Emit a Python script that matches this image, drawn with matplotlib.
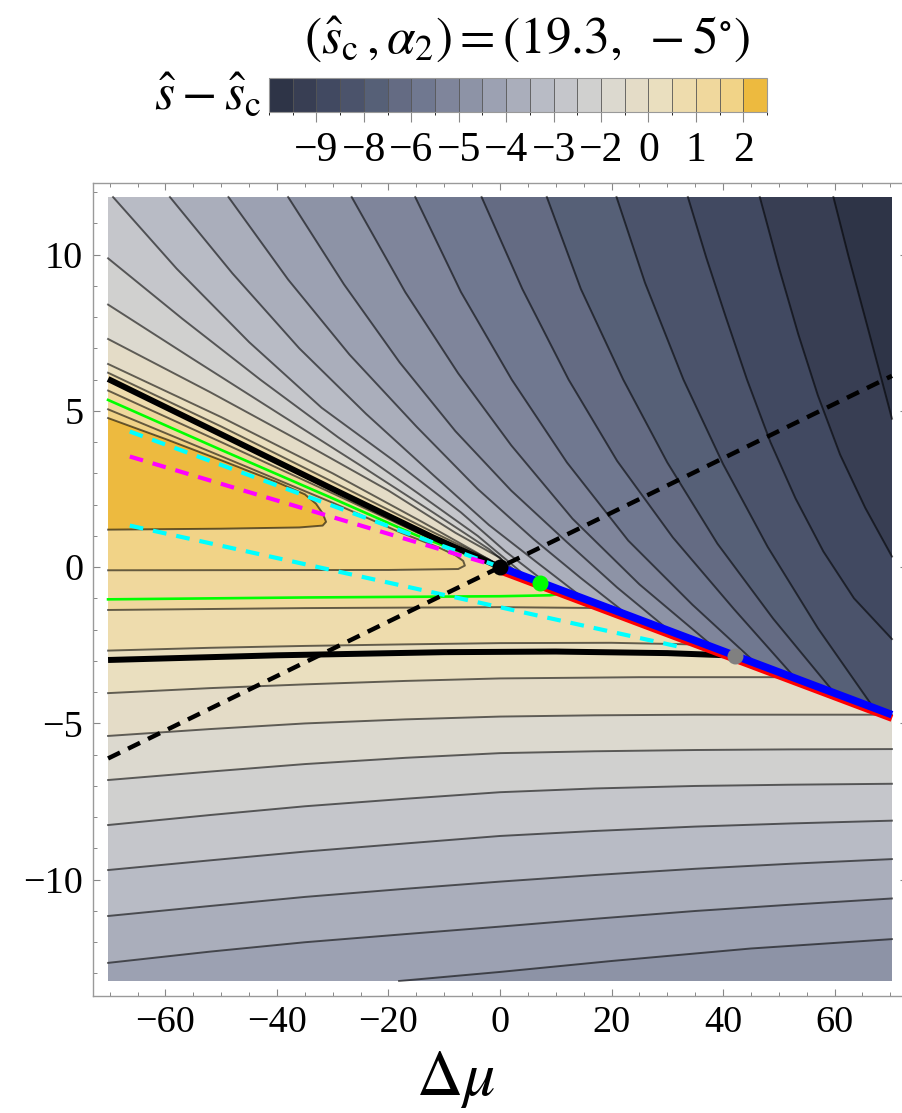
import matplotlib
matplotlib.use("Agg")
import matplotlib.pyplot as plt
from matplotlib.colors import ListedColormap, BoundaryNorm
from matplotlib.colorbar import ColorbarBase
from matplotlib.ticker import MultipleLocator

plt.rcParams['font.family'] = ['Liberation Serif', 'DejaVu Serif']
plt.rcParams['mathtext.fontset'] = 'stix'

# plot range of the contour data
XMIN, XMAX = -70.3, 70.3
YMIN, YMAX = -13.24, 11.84
crease_x = [0.0, 70.3]
crease_y = [0.0, -4.72]

# 21 contour bands, darkest (lowest s - s_c) first
band_colors = ['#2e3447', '#383e53', '#414961', '#4b536b', '#566077', '#646b83',
               '#707890', '#7f859b', '#8d93a6', '#9ca1b2', '#aaaebb', '#b8bbc5',
               '#c5c6cb', '#d0d0cf', '#dcd9cf', '#e4dcc7', '#eadfbf', '#eedcad',
               '#f0d89d', '#f1d387', '#edba3f']
cbar_ticks = [2, 4, 6, 8, 10, 12, 14, 16, 18, 20]
cbar_labels = ['\u22129', '\u22128', '\u22126', '\u22125', '\u22124', '\u22123',
               '\u22122', '0', '1', '2']

# contour lines below the transition line (band index filled above each line)
xs_full = [-70.3, -52, -35, -17, 0, 17, 35, 52, 70.3]
lower_x = [[-18.1, 0, 20, 45, 70.3],
           xs_full, xs_full, xs_full, xs_full, xs_full, xs_full,
           [-70.3, -52, -35, -17, 0, 25, 52.5],
           [-70.3, -52, -35, -17, 0, 20, 37],
           [-70.3, -35, 0, 19.5]]
lower_y = [[-13.24, -12.95, -12.6, -12.2, -11.9],
           [-12.66, -12.3, -12.0, -11.74, -11.5, -11.25, -11.0, -10.8, -10.6],
           [-11.16, -10.84, -10.55, -10.29, -10.06, -9.85, -9.65, -9.49, -9.34],
           [-9.69, -9.38, -9.1, -8.84, -8.6, -8.44, -8.3, -8.2, -8.11],
           [-8.25, -7.93, -7.65, -7.41, -7.2, -7.08, -7.0, -6.96, -6.93],
           [-6.81, -6.54, -6.3, -6.1, -5.95, -5.89, -5.85, -5.83, -5.82],
           [-5.4, -5.18, -5.0, -4.87, -4.78, -4.74, -4.72, -4.72, -4.72],
           [-4.03, -3.87, -3.75, -3.64, -3.56, -3.52, -3.52],
           [-2.67, -2.58, -2.52, -2.47, -2.43, -2.42, -2.48],
           [-1.37, -1.31, -1.28, -1.31]]
lower_band = [10, 11, 12, 13, 14, 15, 16, 17, 18, 19]

# closed tongues on the left
tongue20_x = [-70.3, -50, -30, -18, -11, -8, -6.6, -6.3, -7.5, -20, -70.3]
tongue20_y = [5.05, 3.55, 2.06, 1.12, 0.63, 0.38, 0.2, 0.05, -0.06, -0.09, -0.1]
tongue21_x = [-70.3, -60, -50, -40, -35, -33, -31.8, -31.2, -31.8, -36, -50, -70.3]
tongue21_y = [4.77, 4.1, 3.42, 2.72, 2.33, 2.03, 1.72, 1.45, 1.33, 1.27, 1.23, 1.2]
strip18_x = [-70.3, -50, -30, -15, -5, 0]
strip18_y = [5.65, 4.0, 2.36, 1.12, 0.37, 0.01]

# contour lines above the transition line (band index filled to their upper right)
upper_x = [[-70.3, -50, -30, -12, -2, 0.5],
           [-70.3, -50, -30, -14, -4, 1.2],
           [-70.3, -52, -35, -20, -8, 0, 2.2],
           [-70.3, -55, -40, -25, -12, -2, 3.5],
           [-70.3, -57, -43, -29, -15, -4, 5],
           [-69.4, -58, -45, -32, -19, -7, 1, 9],
           [-59.2, -48, -36, -24, -12, -2, 7, 15],
           [-48.7, -38, -27, -15, -4, 6, 14.5, 23],
           [-38, -28, -18, -8, 2, 12, 21, 30.5],
           [-26.6, -17, -7.5, 2, 13, 25, 38.5],
           [-15.2, -7, 2.1, 12, 23, 34.5, 46],
           [-3.3, 4, 12.3, 21, 31, 42, 53],
           [8.4, 14.5, 22.1, 30, 39, 49, 60],
           [20.9, 26, 32.9, 40, 48, 57, 67],
           [33.7, 37, 40.5, 44.3, 48.5, 53, 58, 63.5, 70.3],
           [46.6, 50, 53.5, 57, 61, 65.5, 70.3],
           [59.8, 62.5, 65.3, 68, 70.3]]
upper_y = [[6.22, 4.5, 2.73, 1.12, 0.25, -0.03],
           [6.5, 4.8, 3.0, 1.45, 0.45, -0.08],
           [7.3, 5.6, 3.95, 2.45, 1.1, 0.3, -0.15],
           [8.4, 6.65, 4.95, 3.25, 1.75, 0.58, -0.23],
           [9.88, 7.95, 6.0, 4.15, 2.4, 1.0, -0.34],
           [11.84, 9.55, 7.2, 5.1, 3.4, 1.75, 0.5, -0.6],
           [11.84, 9.4, 7.0, 4.9, 2.95, 1.35, 0.1, -1.0],
           [11.84, 9.2, 6.8, 4.5, 2.5, 0.9, -0.35, -1.54],
           [11.84, 9.05, 6.55, 4.35, 2.45, 0.8, -0.65, -2.05],
           [11.84, 8.8, 6.2, 3.9, 1.55, -0.55, -2.58],
           [11.84, 8.8, 6.0, 3.35, 0.85, -1.2, -3.09],
           [11.84, 8.9, 6.0, 3.4, 0.95, -1.35, -3.56],
           [11.84, 8.9, 6.0, 3.35, 0.75, -1.65, -4.03],
           [11.84, 9.1, 6.0, 3.3, 0.65, -1.95, -4.5],
           [11.84, 9.9, 8.0, 6.0, 4.0, 2.2, 0.5, -1.0, -2.3],
           [11.84, 9.6, 7.45, 5.5, 3.6, 1.9, 0.34],
           [11.84, 9.95, 8.1, 6.3, 4.75]]
upper_band = [17, 16, 15, 14, 13, 12, 11, 10, 9, 8, 7, 6, 5, 4, 3, 2, 1]

# highlighted curves
black_upper_x = [-70.3, -50, -30, -12, 0]
black_upper_y = [6.02, 4.25, 2.5, 0.95, 0]
black_lower_x = [-70.3, -40, -10, 10, 30, 42.2]
black_lower_y = [-2.97, -2.82, -2.72, -2.70, -2.75, -2.83]
green_upper_x = [-70.3, -50, -30, -15, -5, 0]
green_upper_y = [5.35, 3.75, 2.2, 1.02, 0.34, 0.02]
green_lower_x = [-70.3, -35, 0, 9, 12]
green_lower_y = [-1.03, -0.97, -0.93, -0.9, -0.82]
cyan_upper_x, cyan_upper_y = [-66.4, -1.0], [4.34, 0.07]
cyan_lower_x, cyan_lower_y = [-66.4, 32.0], [1.33, -2.54]
magenta_x, magenta_y = [-66.4, 0.0], [3.54, 0.0]
dashed_x, dashed_y = [-70.3, 70.3], [-6.12, 6.12]
points_x = [0.0, 7.17, 42.2]
points_y = [0.0, -0.50, -2.83]
points_c = ['black', '#00ff00', '#808080']


def col(band):
    return band_colors[band - 1]


def above_polygon(xs, ys):
    px = list(xs) + [xs[-1], XMIN]
    py = list(ys) + [YMAX, YMAX]
    if ys[0] <= YMIN + 1e-6:
        px.append(XMIN)
        py.append(YMIN)
    return px, py


def upper_polygon(xs, ys):
    px, py = list(xs), list(ys)
    if xs[-1] < XMAX - 1e-6:
        px.append(crease_x[-1])
        py.append(crease_y[-1])
    return px + [XMAX, XMIN], py + [YMAX, YMAX]


fig = plt.figure(figsize=(9.02, 11.13), dpi=100)
ax = fig.add_axes([93 / 902, 117 / 1113, 814 / 902, 813.3 / 1113])

# filled bands, painted from the bottom layer up
ax.fill([XMIN, XMAX, XMAX, XMIN], [YMIN, YMIN, YMAX, YMAX], color=col(9), lw=0, zorder=1)
for xs, ys, b in zip(lower_x, lower_y, lower_band):
    px, py = above_polygon(xs, ys)
    ax.fill(px, py, color=col(b), lw=0, zorder=1)
ax.fill(tongue20_x, tongue20_y, color=col(20), lw=0, zorder=1)
ax.fill(tongue21_x, tongue21_y, color=col(21), lw=0, zorder=1)
ax.fill(black_upper_x + strip18_x[::-1], black_upper_y + strip18_y[::-1],
        color=col(18), lw=0, zorder=1)
ax.fill(black_upper_x + [crease_x[-1], XMAX, XMIN],
        black_upper_y + [crease_y[-1], YMAX, YMAX], color=col(18), lw=0, zorder=1)
for xs, ys, b in zip(upper_x, upper_y, upper_band):
    px, py = upper_polygon(xs, ys)
    ax.fill(px, py, color=col(b), lw=0, zorder=1)

# contour lines
cl = dict(color='black', alpha=0.58, lw=1.4, zorder=2)
for xs, ys in zip(lower_x + upper_x, lower_y + upper_y):
    ax.plot(xs, ys, **cl)
ax.plot(tongue20_x, tongue20_y, **cl)
ax.plot(tongue21_x, tongue21_y, **cl)
ax.plot(strip18_x, strip18_y, **cl)

# highlighted curves
ax.plot(green_upper_x, green_upper_y, color='#00ff00', lw=1.9, zorder=3)
ax.plot(green_lower_x, green_lower_y, color='#00ff00', lw=1.9, zorder=3)
ax.plot(black_upper_x, black_upper_y, color='black', lw=4.3, zorder=4, solid_capstyle='butt')
ax.plot(black_lower_x, black_lower_y, color='black', lw=4.3, zorder=4, solid_capstyle='butt')
ax.plot(cyan_upper_x, cyan_upper_y, color='#00ffff', lw=3, dashes=(3.3, 2.4), zorder=5)
ax.plot(magenta_x, magenta_y, color='#ff00ff', lw=3, dashes=(3.3, 2.4), zorder=5)
ax.plot(cyan_lower_x, cyan_lower_y, color='#00ffff', lw=3, dashes=(3.3, 2.4), zorder=5)
ax.plot(dashed_x, dashed_y, color='black', lw=3.2, dashes=(3.0, 2.0), zorder=6)
ax.plot(crease_x, [y - 0.12 for y in crease_y], color='red', lw=5, zorder=7,
        solid_capstyle='butt')
ax.plot(crease_x, crease_y, color='blue', lw=5.5, zorder=8, solid_capstyle='butt')
for x, y, c in zip(points_x, points_y, points_c):
    ax.plot(x, y, 'o', color=c, ms=11.5, mec='none', zorder=9)

ax.set_xlim(-73, 73)
ax.set_ylim(-13.72, 12.3)
ax.xaxis.set_major_locator(MultipleLocator(20))
ax.xaxis.set_minor_locator(MultipleLocator(5))
ax.yaxis.set_major_locator(MultipleLocator(5))
ax.yaxis.set_minor_locator(MultipleLocator(1))
ax.tick_params(which='both', direction='in', top=True, right=True, color='#888888',
               labelsize=27.5, pad=7)
ax.tick_params(which='major', length=5, width=0.8)
ax.tick_params(which='minor', length=2.6, width=0.7)
for s in ax.spines.values():
    s.set_color('#9a9a9a')
    s.set_linewidth(1.0)

fig.text(455 / 902, 1 - 1080 / 1113, r'$\Delta\mu$', ha='center', va='center', fontsize=46)

# colour legend on top
cax = fig.add_axes([269 / 902, 1 - 112 / 1113, 498 / 902, 34 / 1113])
cb = ColorbarBase(cax, cmap=ListedColormap(band_colors), norm=BoundaryNorm(range(22), 21),
                  orientation='horizontal', drawedges=True)
cb.set_ticks(cbar_ticks)
cb.set_ticklabels(cbar_labels)
cb.dividers.set_color('#555555')
cb.dividers.set_linewidth(0.6)
cb.outline.set_edgecolor('#999999')
cb.outline.set_linewidth(0.8)
cax.tick_params(direction='out', length=7, width=0.8, color='#888888', labelsize=30, pad=7)
fig.text(262 / 902, 1 - 97 / 1113, r'$\hat{s}-\hat{s}_{\mathrm{c}}$', ha='right', va='center',
         fontsize=37)
fig.text(527 / 902, 1 - 40 / 1113, r'$(\hat{s}_{\mathrm{c}}\,,\alpha_2)=(19.3,\ -5^{\circ})$',
         ha='center', va='center', fontsize=37)

fig.savefig('out.png', dpi=100)
